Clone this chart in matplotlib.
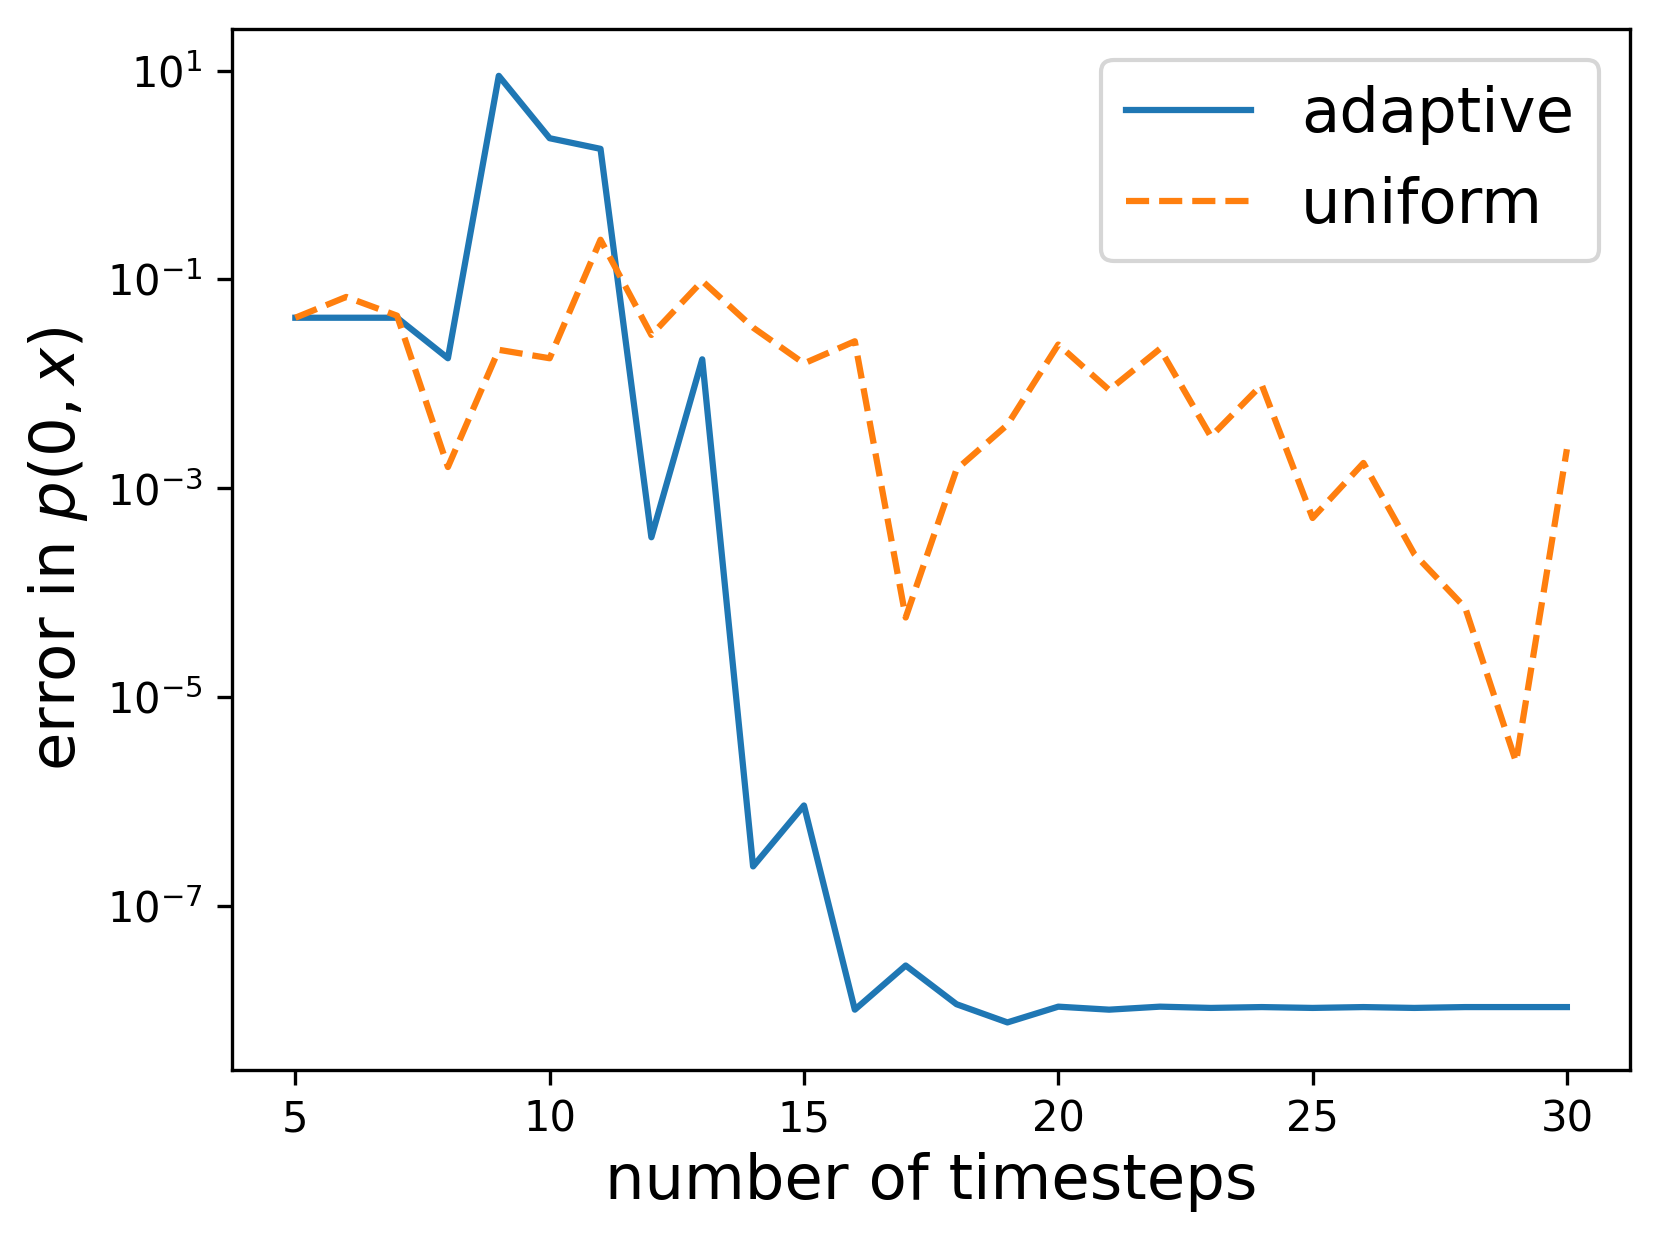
import numpy as np
import matplotlib
matplotlib.use("Agg")
import matplotlib.pyplot as plt

# number of timesteps
steps = np.arange(5, 31)

# error in p(0, x)
err_adaptive = [0.043, 0.043, 0.043, 0.0176, 8.9, 2.25, 1.78, 3.4e-4, 0.0172,
                2.4e-7, 9.2e-7, 1.02e-8, 2.7e-8, 1.15e-8, 7.7e-9, 1.09e-8,
                1.02e-8, 1.09e-8, 1.06e-8, 1.08e-8, 1.06e-8, 1.08e-8, 1.06e-8,
                1.08e-8, 1.08e-8, 1.08e-8]
err_uniform = [0.043, 0.068, 0.045, 1.6e-3, 0.0212, 0.0176, 0.24, 0.0294,
               0.0966, 0.0346, 0.0157, 0.0256, 5.8e-5, 1.52e-3, 4.06e-3,
               0.0238, 8.75e-3, 0.0217, 3.13e-3, 9.8e-3, 5.2e-4, 1.75e-3,
               2.35e-4, 7.2e-5, 2.4e-6, 2.37e-3]

fig = plt.figure(figsize=(1659/300, 1240/300), dpi=300)
ax = fig.add_axes([0.1397, 0.1373, 0.9828 - 0.1397, 0.977 - 0.1373])

ax.semilogy(steps, err_adaptive, label="adaptive")
ax.semilogy(steps, err_uniform, "--", label="uniform")

ax.set_xlabel("number of timesteps", fontsize=15, labelpad=2.6)
ax.set_ylabel(r"error in $p(0,x)$", fontsize=15)
ax.legend(fontsize=15, loc="upper right")

fig.savefig("out.png", dpi=300)
